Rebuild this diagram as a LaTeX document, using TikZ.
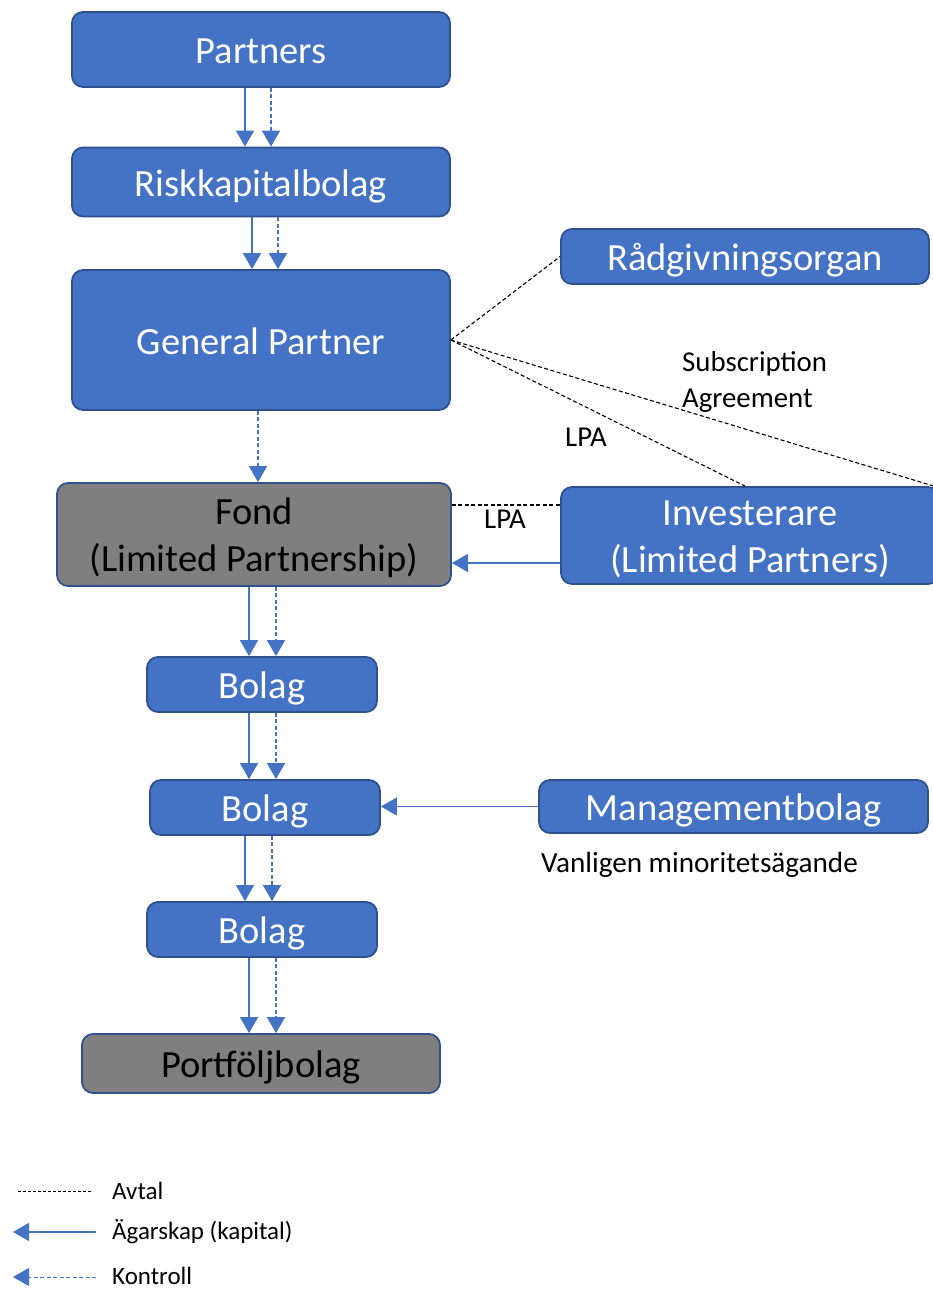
\documentclass[tikz,border=0pt]{standalone}
\usepackage{fontspec}
\setmainfont{Carlito}
\usetikzlibrary{arrows.meta,calc}
\definecolor{boxblue}{HTML}{4472C4}
\definecolor{boxedge}{HTML}{2F528F}
\definecolor{boxgray}{HTML}{7F7F7F}
\begin{document}
\begin{tikzpicture}[x=1pt,y=-1pt,
  bluebox/.style={draw=boxedge, line width=1.8pt, fill=boxblue, rounded corners=11pt,
    text=white, font=\fontsize{38.5}{47}\selectfont, inner sep=0pt,
    text height=38pt, text depth=9.6pt},
  graybox/.style={bluebox, fill=boxgray, text=black},
  twoline/.style={font=\fontsize{38.5}{47}\selectfont, align=center, inner sep=0pt},
  own/.style={draw=boxblue, line width=1.3pt, -{Triangle[width=18pt,length=16pt]}},
  ctrl/.style={own, dash pattern=on 4pt off 2.5pt},
  avtal/.style={draw=black, line width=1.1pt, dash pattern=on 4pt off 2.5pt},
  lbl/.style={font=\fontsize{28.8}{36}\selectfont, inner sep=0pt},
  leg/.style={font=\fontsize{25}{30}\selectfont, inner sep=0pt, anchor=west}]
\useasboundingbox (0,0) rectangle (933,1290);

% boxes
\node[bluebox, minimum width=378pt, minimum height=75pt] (partners) at (261,49.5) {Partners};
\node[bluebox, minimum width=378pt, minimum height=69pt] (risk) at (261,182) {Riskkapitalbolag};
\node[bluebox, minimum width=378pt, minimum height=140pt] (gp) at (261,340) {General Partner};
\node[bluebox, minimum width=368pt, minimum height=55pt] (rad) at (745,256.5) {Rådgivningsorgan};
\node[graybox, minimum width=394pt, minimum height=103pt] (fond) at (254,534.5) {};
\node[twoline, text=black] (fondtxt) at (254,538) {Fond\\(Limited Partnership)};
\node[bluebox, minimum width=378pt, minimum height=97pt] (inv) at (750,535.5) {};
\node[twoline, text=white] (invtxt) at (750,539.5) {Investerare\\(Limited Partners)};
\node[bluebox, minimum width=230pt, minimum height=55pt] (b1) at (262,684.5) {Bolag};
\node[bluebox, minimum width=230pt, minimum height=55pt] (b2) at (265,807.5) {Bolag};
\node[bluebox, minimum width=230pt, minimum height=55pt] (b3) at (262,929.5) {Bolag};
\node[graybox, minimum width=358pt, minimum height=59pt] (port) at (261,1063.5) {Portföljbolag};
\node[bluebox, minimum width=389pt, minimum height=53pt] (mgmt) at (733.5,806.5) {Managementbolag};

% vertical ownership / control arrows
\draw[own]  ($(partners.south)+(-16,0)$) -- ($(risk.north)+(-16,0)$);
\draw[ctrl] ($(partners.south)+(10,0)$) -- ($(risk.north)+(10,0)$);
\draw[own]  ($(risk.south)+(-9,0)$) -- ($(gp.north)+(-9,0)$);
\draw[ctrl] ($(risk.south)+(17,0)$) -- ($(gp.north)+(17,0)$);
\draw[ctrl] ($(gp.south)+(-3,0)$) -- ($(fond.north)+(4,0)$);
\draw[own]  ($(fond.south)+(-5,0)$) -- ($(b1.north)+(-13,0)$);
\draw[ctrl] ($(fond.south)+(22,0)$) -- ($(b1.north)+(14,0)$);
\draw[own]  ($(b1.south)+(-13,0)$) -- ($(b2.north)+(-16,0)$);
\draw[ctrl] ($(b1.south)+(14,0)$) -- ($(b2.north)+(11,0)$);
\draw[own]  ($(b2.south)+(-20,0)$) -- ($(b3.north)+(-17,0)$);
\draw[ctrl] ($(b2.south)+(7,0)$) -- ($(b3.north)+(10,0)$);
\draw[own]  ($(b3.south)+(-13,0)$) -- ($(port.north)+(-12,0)$);
\draw[ctrl] ($(b3.south)+(14,0)$) -- ($(port.north)+(15,0)$);

% horizontal ownership arrows
\coordinate (capA) at ($(inv.west)+(0,27.5)$);
\draw[own] (capA) -- (capA -| fond.east);
\draw[own] (mgmt.west) -- (mgmt.west -| b2.east);

% agreements
\draw[avtal] (gp.east) -- (rad.west);
\draw[avtal] (gp.east) -- ($(inv.north)+(-5,0)$);
\draw[avtal] (gp.east) -- ($(inv.north east)+(-6,0)$);
\coordinate (lpaA) at ($(fond.east)+(0,-29.5)$);
\draw[avtal] (lpaA) -- (lpaA -| inv.west);

% labels
\node[lbl, anchor=west, align=left] (sub) at (682,382) {Subscription\\Agreement};
\node[lbl] (lpa1) at (586,437) {LPA};
\node[lbl] (lpa2) at (505,519) {LPA};
\node[lbl, font=\fontsize{29.2}{36}\selectfont] (minor) at (699.5,865) {Vanligen minoritetsägande};

% legend
\node[leg] (l1) at (112,1191) {Avtal};
\node[leg] (l2) at (112,1232) {Ägarskap (kapital)};
\node[leg] (l3) at (112,1276) {Kontroll};
\coordinate (l1a) at (18,1191);
\coordinate (l1b) at (93,1191);
\coordinate (l2a) at (96,1232);
\coordinate (l2b) at (13,1232);
\coordinate (l3a) at (96,1277);
\coordinate (l3b) at (13,1277);
\draw[avtal, line width=0.8pt, dash pattern=on 3pt off 2pt] (l1a) -- (l1b);
\draw[own] (l2a) -- (l2b);
\draw[ctrl, line width=1pt] (l3a) -- (l3b);
\end{tikzpicture}
\end{document}
